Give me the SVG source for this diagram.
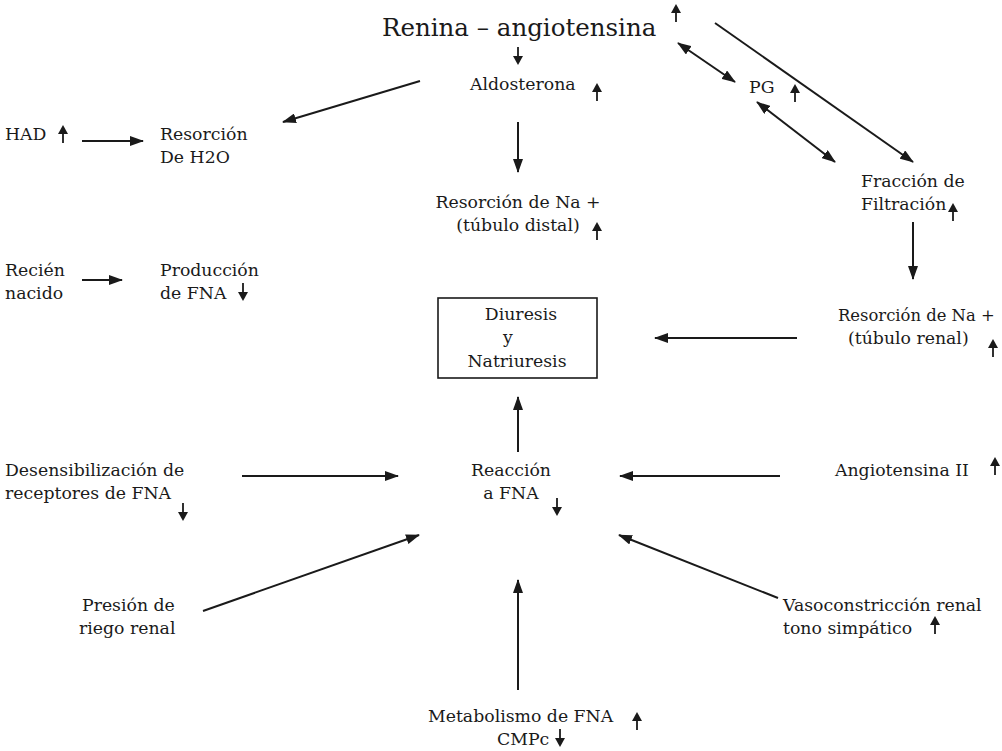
<svg xmlns="http://www.w3.org/2000/svg" xmlns:xlink="http://www.w3.org/1999/xlink" width="1002" height="751" viewBox="0 0 1002 751">
<style>
text{font-family:"DejaVu Serif","Liberation Serif",serif;font-size:17.3px;fill:#1a1a1a}
.c{text-anchor:middle}
.title{font-size:24.5px}
.ln{stroke:#1a1a1a;stroke-width:2;fill:none}
</style>
<defs>
<marker id="ah" viewBox="0 0 14 10" refX="13" refY="5" markerWidth="14" markerHeight="10" markerUnits="userSpaceOnUse" orient="auto-start-reverse">
<path d="M0,0 L14,5 L0,10 z" fill="#1a1a1a"/>
</marker>
<g id="up"><path d="M0,-9 L-5,0 L5,0 z" fill="#1a1a1a"/><line x1="0" y1="-1" x2="0" y2="9" stroke="#1a1a1a" stroke-width="1.8"/></g>
<g id="dn"><path d="M0,9 L-5,0 L5,0 z" fill="#1a1a1a"/><line x1="0" y1="1" x2="0" y2="-9" stroke="#1a1a1a" stroke-width="1.8"/></g>
</defs>
<rect width="1002" height="751" fill="#fff"/>

<g id="connectors">
<line class="ln" x1="420" y1="81" x2="283" y2="122" marker-end="url(#ah)"/>
<line class="ln" x1="518" y1="122" x2="518" y2="172" marker-end="url(#ah)"/>
<line class="ln" x1="678" y1="43" x2="735" y2="82" marker-start="url(#ah)" marker-end="url(#ah)"/>
<line class="ln" x1="757" y1="102" x2="835" y2="162" marker-start="url(#ah)" marker-end="url(#ah)"/>
<line class="ln" x1="715" y1="23" x2="913" y2="162" marker-end="url(#ah)"/>
<line class="ln" x1="913" y1="222" x2="913" y2="279" marker-end="url(#ah)"/>
<line class="ln" x1="797" y1="338" x2="655" y2="338" marker-end="url(#ah)"/>
<line class="ln" x1="82" y1="141" x2="143" y2="141" marker-end="url(#ah)"/>
<line class="ln" x1="82" y1="280" x2="122" y2="280" marker-end="url(#ah)"/>
<line class="ln" x1="518" y1="452" x2="518" y2="397" marker-end="url(#ah)"/>
<line class="ln" x1="242" y1="476" x2="398" y2="476" marker-end="url(#ah)"/>
<line class="ln" x1="780" y1="476" x2="620" y2="476" marker-end="url(#ah)"/>
<line class="ln" x1="203" y1="611" x2="419" y2="535" marker-end="url(#ah)"/>
<line class="ln" x1="778" y1="598" x2="619" y2="535" marker-end="url(#ah)"/>
<line class="ln" x1="518" y1="690" x2="518" y2="580" marker-end="url(#ah)"/>
</g>

<g id="renina">
<text class="title" x="382" y="36">Renina – angiotensina</text>
<use href="#up" x="676" y="13"/>
<use href="#dn" x="518" y="56"/>
</g>
<g id="aldosterona">
<text x="470" y="90">Aldosterona</text>
<use href="#up" x="597" y="92"/>
</g>
<g id="pg">
<text x="749" y="93">PG</text>
<use href="#up" x="795" y="93"/>
</g>
<g id="fraccion">
<text x="861" y="187">Fracción de</text>
<text x="861" y="210">Filtración</text>
<use href="#up" x="953" y="212"/>
</g>
<g id="resorcion-distal">
<text class="c" x="518" y="208">Resorción de Na +</text>
<text class="c" x="518" y="231">(túbulo distal)</text>
<use href="#up" x="597" y="231"/>
</g>
<g id="resorcion-renal">
<text x="838" y="321" style="font-size:16.4px">Resorción de Na +</text>
<text x="848" y="344">(túbulo renal)</text>
<use href="#up" x="993" y="348"/>
</g>
<g id="diuresis">
<rect x="438" y="298" width="159" height="80" fill="none" stroke="#1a1a1a" stroke-width="1.6"/>
<text class="c" x="521" y="320">Diuresis</text>
<text class="c" x="508" y="343">y</text>
<text class="c" x="517" y="367">Natriuresis</text>
</g>
<g id="had">
<text x="5" y="140">HAD</text>
<use href="#up" x="63" y="134"/>
</g>
<g id="resorcion-h2o">
<text x="160" y="140">Resorción</text>
<text x="160" y="163">De H2O</text>
</g>
<g id="recien">
<text x="5" y="276">Recién</text>
<text x="5" y="299">nacido</text>
</g>
<g id="produccion">
<text x="160" y="276">Producción</text>
<text x="160" y="299">de FNA</text>
<use href="#dn" x="243" y="292"/>
</g>
<g id="reaccion">
<text class="c" x="511" y="476">Reacción</text>
<text class="c" x="511" y="499">a FNA</text>
<use href="#dn" x="557" y="507"/>
</g>
<g id="desensibilizacion">
<text x="5" y="476">Desensibilización de</text>
<text x="5" y="499">receptores de FNA</text>
<use href="#dn" x="183" y="512"/>
</g>
<g id="angiotensina2">
<text x="835" y="476">Angiotensina II</text>
<use href="#up" x="995" y="466"/>
</g>
<g id="presion">
<text x="82" y="611">Presión de</text>
<text x="79" y="634">riego renal</text>
</g>
<g id="vasoconstriccion">
<text x="783" y="611">Vasoconstricción renal</text>
<text x="783" y="634">tono simpático</text>
<use href="#up" x="935" y="625"/>
</g>
<g id="metabolismo">
<text x="428" y="722">Metabolismo de FNA</text>
<text x="497" y="745">CMPc</text>
<use href="#dn" x="560" y="738"/>
<use href="#up" x="637" y="721"/>
</g>
</svg>
